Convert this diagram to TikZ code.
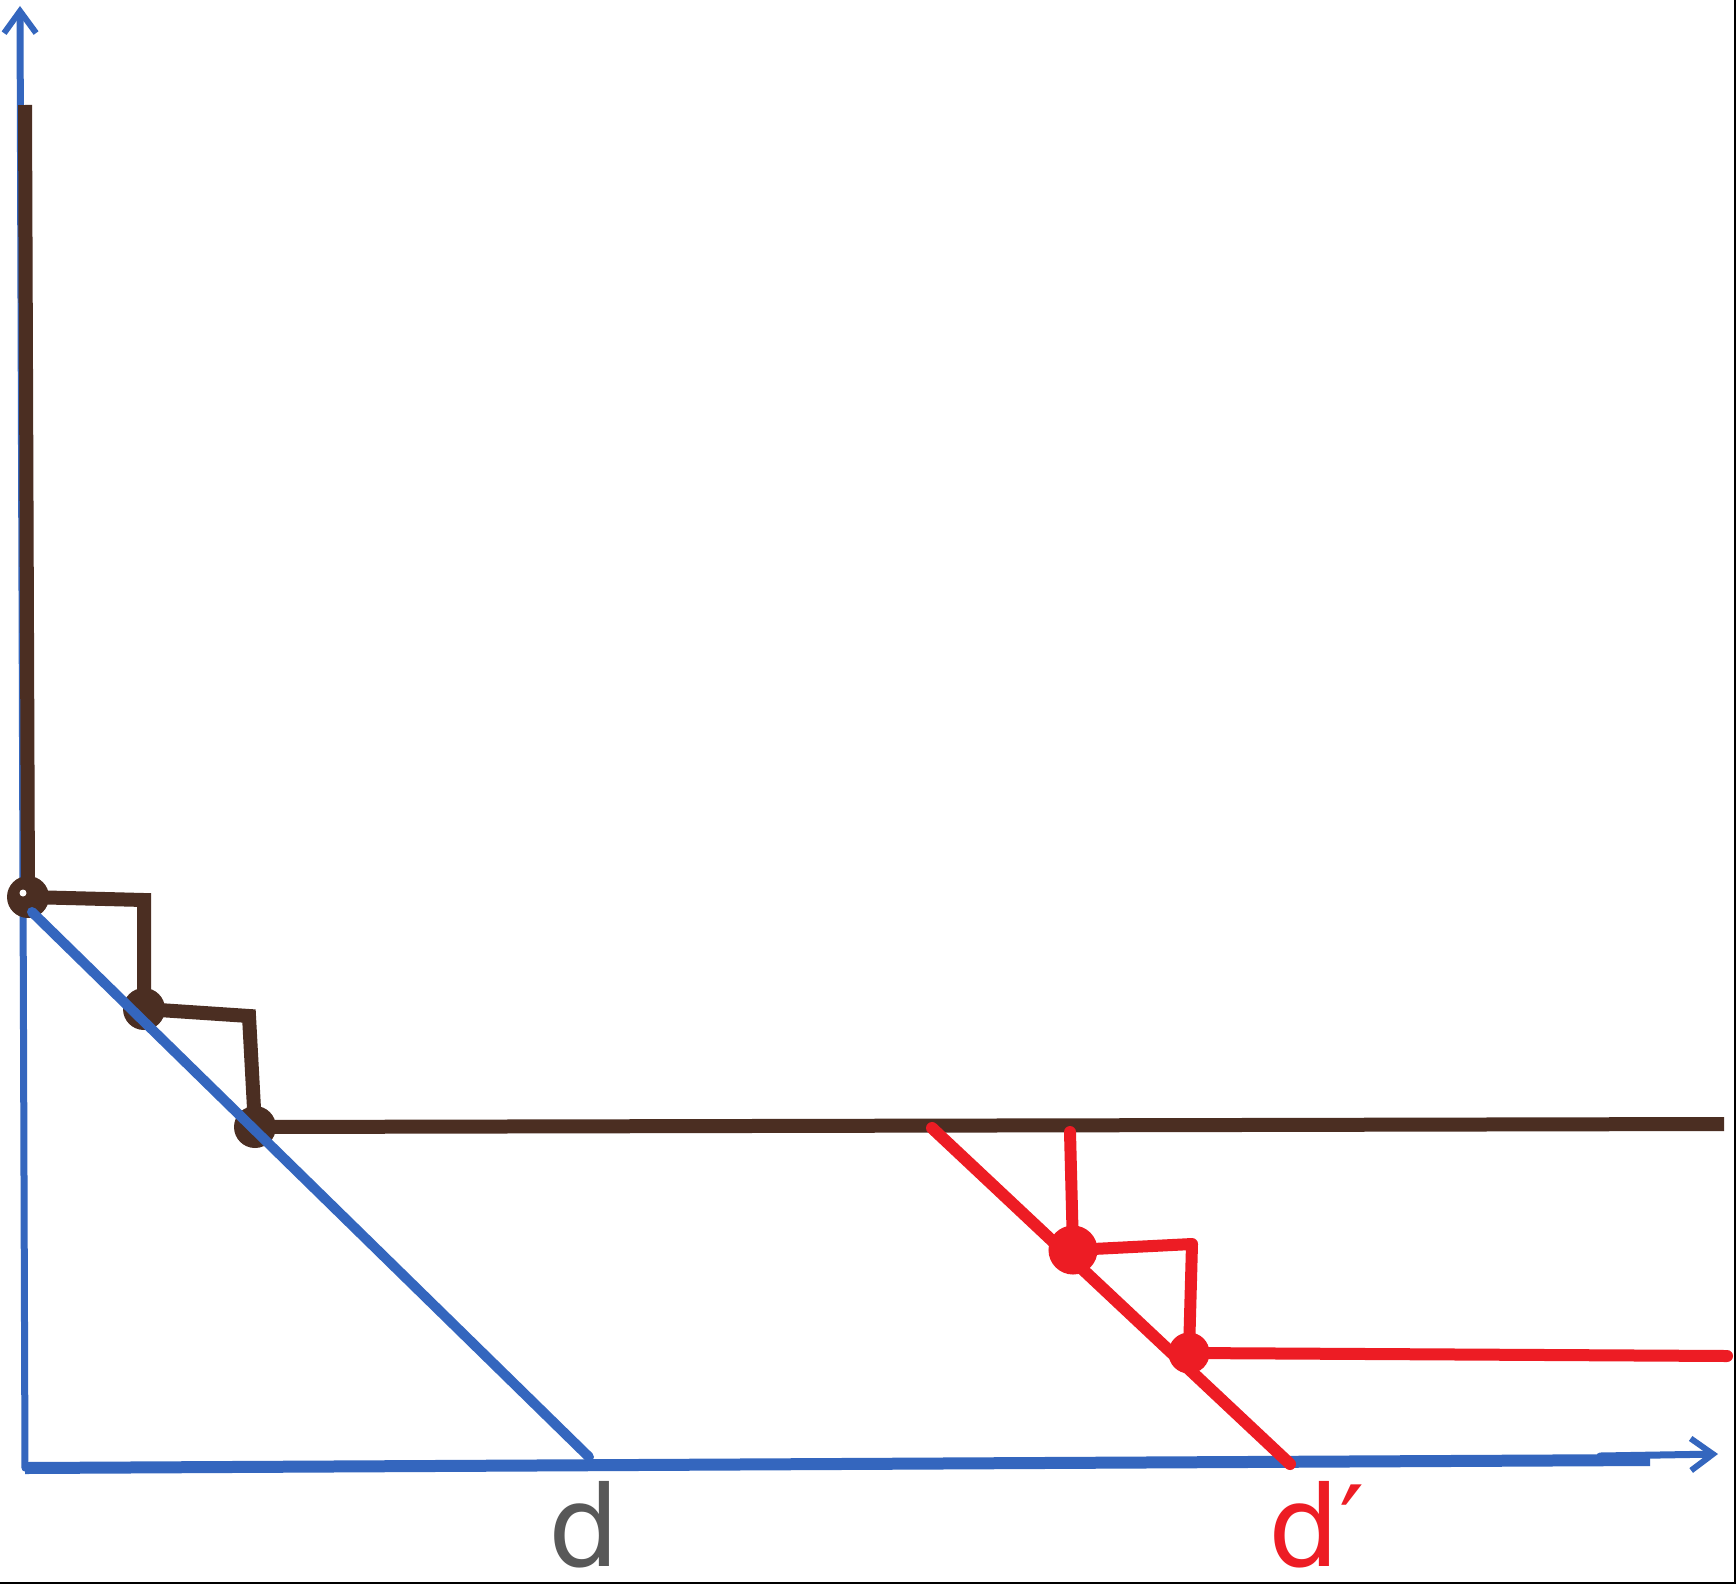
\documentclass[tikz,border=0pt]{standalone}
\usepackage{fontspec}
\setmainfont{DejaVu Sans}
\usetikzlibrary{arrows.meta}
\definecolor{axisblue}{HTML}{3466BE}
\definecolor{stairbrown}{HTML}{4B2E22}
\definecolor{stairred}{HTML}{ED1C24}
\definecolor{labelgray}{HTML}{585858}
\tikzset{
  axisline/.style={draw=axisblue, line width=7pt, line cap=round, line join=round},
  brownline/.style={draw=stairbrown, line width=14pt, line join=miter},
  redline/.style={draw=stairred, line width=12pt, line cap=round, line join=round},
  browndot/.style={circle, fill=stairbrown, minimum size=42pt, inner sep=0pt},
  reddot/.style={circle, draw=stairred, line width=9pt, fill=stairred, minimum size=36pt, inner sep=0pt},
  lbl/.style={inner sep=0pt, font=\fontsize{112}{112}\selectfont},
  barb/.style={-{Straight Barb[length=22pt,width=32pt,line width=6pt]}}
}
\begin{document}
\begin{tikzpicture}[x=1pt,y=-1pt]
\useasboundingbox (0,0) rectangle (1736,1584);
\fill[white] (0,0) rectangle (1736,1584);
\draw[black, line width=2pt] (0,1583) -- (1735,1583) -- (1735,0);
% coordinates
\coordinate (O) at (25,1468);
\coordinate (ytop) at (20,6);
\coordinate (xthick) at (1650,1460);
\coordinate (xtip) at (1718,1454);
\coordinate (dA) at (32,912);
\coordinate (dB) at (589,1457);
\coordinate (btop) at (25,105);
\coordinate (rA) at (932,1128);
\coordinate (rB) at (1290,1464);
% axes
\draw[axisline, barb] (O) -- (ytop);
\draw[axisline, line width=12pt, line cap=butt] (O) -- (xthick);
\draw[axisline, barb] (1600,1456) -- (xtip);
% brown staircase
\node[browndot] (b1) at (28,897) {};
\node[browndot] (b2) at (144,1009) {};
\node[browndot] (b3) at (255,1127) {};
\coordinate (bend) at (1724,1124);
\draw[brownline] (btop) -- (b1.center) -- (144,900) -- (b2.center) -- (249,1016) -- (b3.center) -- (bend);
\fill[white] (23,893) circle (3.5pt);
% blue diagonal
\draw[axisline, line width=10pt] (dA) -- (dB);
% red staircase
\draw[redline] (rA) -- (rB);
\node[reddot, minimum size=40pt] (r1) at (1073,1250) {};
\node[reddot, minimum size=32pt] (r2) at (1189,1353) {};
\coordinate (rtop) at (1070,1132);
\coordinate (rend) at (1727,1356);
\draw[redline] (rtop) -- (r1.center) -- (1192,1244) -- (r2.center) -- (rend);
% labels
\node[lbl, text=labelgray, anchor=base] (dlab) at (584,1566) {d};
\node[lbl, text=stairred, anchor=base west] (dplab) at (1268,1566) {d′};
\end{tikzpicture}
\end{document}
